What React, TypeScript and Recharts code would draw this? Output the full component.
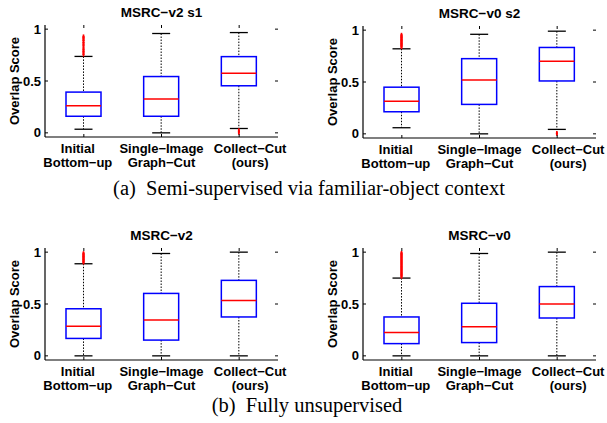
import React from "react";
import { ComposedChart, Bar, XAxis, YAxis } from "recharts";

const CATEGORIES = ["initial", "single", "collect"];
const CATEGORY_LINES = [
  ["Initial", "Bottom−up"],
  ["Single−Image", "Graph−Cut"],
  ["Collect−Cut", "(ours)"],
];
const Y_TICKS = [0, 0.5, 1];
const Y_TICK_LABELS = ["0", "0.5", "1"];
const TITLES = ["MSRC−v2 s1", "MSRC−v0 s2", "MSRC−v2", "MSRC−v0"];
const CAPTIONS = ["(a)  Semi-supervised via familiar-object context", "(b)  Fully unsupervised"];

// [lower whisker, q1, median, q3, upper whisker] per category
const V2_S1_STATS = [
  [0.035, 0.16, 0.262, 0.393, 0.737],
  [0.0, 0.16, 0.326, 0.543, 0.958],
  [0.042, 0.454, 0.575, 0.735, 0.967],
];
const V0_S2_STATS = [
  [0.059, 0.213, 0.314, 0.45, 0.82],
  [0.0, 0.284, 0.52, 0.725, 0.96],
  [0.043, 0.51, 0.7, 0.833, 0.99],
];
const V2_STATS = [
  [0.0, 0.168, 0.286, 0.454, 0.888],
  [0.0, 0.152, 0.345, 0.602, 0.987],
  [0.0, 0.375, 0.533, 0.728, 1.0],
];
const V0_STATS = [
  [0.0, 0.118, 0.224, 0.375, 0.75],
  [0.0, 0.128, 0.28, 0.507, 0.987],
  [0.0, 0.365, 0.5, 0.668, 1.0],
];

// outliers per category
const V2_S1_OUT = [
  [0.755, 0.77, 0.787, 0.8, 0.818, 0.84, 0.856, 0.872, 0.89, 0.905, 0.918, 0.93],
  [],
  [0.0, 0.014, 0.026],
];
const V0_S2_OUT = [
  [0.836, 0.846, 0.857, 0.866, 0.874, 0.885, 0.896, 0.904, 0.913, 0.926, 0.934, 0.945, 0.955],
  [],
  [0.0, 0.008],
];
const V2_OUT = [
  [0.9, 0.91, 0.921, 0.93, 0.942, 0.951, 0.96, 0.972, 0.981, 0.99],
  [],
  [],
];
const V0_OUT = [
  [0.762, 0.773, 0.784, 0.795, 0.806, 0.818, 0.829, 0.84, 0.851, 0.862, 0.874, 0.885, 0.896, 0.907, 0.918, 0.93, 0.941, 0.952, 0.963, 0.974, 0.985, 0.993],
  [],
  [],
];

const W = 310;
const H = 180;
const PLOT_L = 45;
const PLOT_T = 25;
const PLOT_W = 233;
const PLOT_H = 112;
const LABEL_SHIFT = [-6, 0, 11];
const FONT = "'Liberation Sans', Arial, Helvetica, sans-serif";
const SERIF = "'Liberation Serif', 'Times New Roman', serif";

function buildRows(stats: number[][], outliers: number[][]) {
  return CATEGORIES.map((cat, i) => ({
    cat,
    lo: stats[i][0],
    q1: stats[i][1],
    med: stats[i][2],
    q3: stats[i][3],
    hi: stats[i][4],
    out: outliers[i],
  }));
}

// whiskers, box, median and outliers, placed from the bar's own lo..hi pixel span
function BoxShape(props: any) {
  const { x, y, width, height, payload } = props;
  if (!payload) return null;
  const top = Math.min(y, y + height);
  const bot = Math.max(y, y + height);
  const { lo, q1, med, q3, hi, out } = payload;
  const py = (v: number) => bot - ((v - lo) / (hi - lo)) * (bot - top);
  const cx = x + width / 2;
  const cap = 9;
  return (
    <g>
      <line x1={cx} x2={cx} y1={py(hi)} y2={py(q3)} stroke="#000" strokeWidth={1} strokeDasharray="1.5 1.5" />
      <line x1={cx} x2={cx} y1={py(q1)} y2={py(lo)} stroke="#000" strokeWidth={1} strokeDasharray="1.5 1.5" />
      <line x1={cx - cap} x2={cx + cap} y1={py(hi)} y2={py(hi)} stroke="#000" strokeWidth={1.3} />
      <line x1={cx - cap} x2={cx + cap} y1={py(lo)} y2={py(lo)} stroke="#000" strokeWidth={1.3} />
      <rect x={x} y={py(q3)} width={width} height={py(q1) - py(q3)} fill="none" stroke="#0000ff" strokeWidth={1.5} />
      <line x1={x} x2={x + width} y1={py(med)} y2={py(med)} stroke="#ff0000" strokeWidth={1.5} />
      {out.map((v: number, k: number) => (
        <g key={k}>
          <line x1={cx} x2={cx} y1={py(v) - 2} y2={py(v) + 2} stroke="#ff0000" strokeWidth={1.6} />
          <line x1={cx - 1} x2={cx + 1} y1={py(v)} y2={py(v)} stroke="#ff0000" strokeWidth={1} />
        </g>
      ))}
    </g>
  );
}

function CatTick(props: any) {
  const { x, y, index } = props;
  const lines = CATEGORY_LINES[index] || [];
  const lx = x + LABEL_SHIFT[index];
  return (
    <g>
      <line x1={x} x2={x} y1={y} y2={y - 3} stroke="#000" />
      <line x1={x} x2={x} y1={y - PLOT_H} y2={y - PLOT_H + 3} stroke="#000" />
      <text x={lx} y={y + 16} textAnchor="middle" fontFamily={FONT} fontWeight="bold" fontSize={13} fill="#000">
        {lines[0]}
      </text>
      <text x={lx} y={y + 29.5} textAnchor="middle" fontFamily={FONT} fontWeight="bold" fontSize={13} fill="#000">
        {lines[1]}
      </text>
    </g>
  );
}

function ValTick(props: any) {
  const { x, y, index } = props;
  return (
    <g>
      <line x1={x} x2={x + 3} y1={y} y2={y} stroke="#000" />
      <line x1={x + PLOT_W - 3} x2={x + PLOT_W} y1={y} y2={y} stroke="#000" />
      <text x={x - 4} y={y + 4.5} textAnchor="end" fontFamily={FONT} fontWeight="bold" fontSize={13} fill="#000">
        {Y_TICK_LABELS[index]}
      </text>
    </g>
  );
}

function Panel({ left, top, title, stats, outliers }: any) {
  const data = buildRows(stats, outliers);
  return (
    <div style={{ position: "absolute", left, top, width: W, height: H }}>
      <ComposedChart
        width={W}
        height={H}
        data={data}
        margin={{ top: PLOT_T, right: W - PLOT_L - PLOT_W, bottom: H - PLOT_T - PLOT_H - 40, left: 14 }}
      >
        <XAxis
          dataKey="cat"
          type="category"
          interval={0}
          height={40}
          tickSize={0}
          tickMargin={0}
          tickLine={false}
          tick={<CatTick />}
          stroke="#000"
          strokeWidth={1.2}
        />
        <XAxis xAxisId="top" dataKey="cat" orientation="top" height={0} tick={false} tickLine={false} stroke="#000" strokeWidth={1.2} />
        <YAxis
          type="number"
          domain={[-0.04, 1.04]}
          ticks={Y_TICKS}
          width={31}
          tickSize={0}
          tickMargin={0}
          tickLine={false}
          tick={<ValTick />}
          stroke="#000"
          strokeWidth={1.2}
        />
        <YAxis
          yAxisId="r"
          orientation="right"
          type="number"
          domain={[-0.04, 1.04]}
          width={0}
          tick={false}
          tickLine={false}
          stroke="#000"
          strokeWidth={1.2}
        />
        <Bar dataKey={(d: any) => [d.lo, d.hi]} barSize={35} shape={<BoxShape />} isAnimationActive={false} />
      </ComposedChart>
      <svg width={W} height={H} style={{ position: "absolute", left: 0, top: 0, pointerEvents: "none" }}>
        <text x={PLOT_L + PLOT_W / 2} y={17} textAnchor="middle" fontFamily={FONT} fontWeight="bold" fontSize={13.5} fill="#000">
          {title}
        </text>
        <text
          transform={`translate(19, ${PLOT_T + PLOT_H / 2}) rotate(-90)`}
          textAnchor="middle"
          fontFamily={FONT}
          fontWeight="bold"
          fontSize={13}
          fill="#000"
        >
          Overlap Score
        </text>
      </svg>
    </div>
  );
}

export default function App() {
  return (
    <div style={{ position: "absolute", left: 0, top: 0, width: 607, height: 423, overflow: "hidden", background: "#fff" }}>
      <Panel left={0} top={0} title={TITLES[0]} stats={V2_S1_STATS} outliers={V2_S1_OUT} />
      <Panel left={318} top={1} title={TITLES[1]} stats={V0_S2_STATS} outliers={V0_S2_OUT} />
      <Panel left={0} top={223} title={TITLES[2]} stats={V2_STATS} outliers={V2_OUT} />
      <Panel left={318} top={223} title={TITLES[3]} stats={V0_STATS} outliers={V0_OUT} />
      <svg width={607} height={423} style={{ position: "absolute", left: 0, top: 0, pointerEvents: "none" }}>
        <text x={309} y={195} textAnchor="middle" fontFamily={SERIF} fontSize={20.5} fill="#000" xmlSpace="preserve">
          {CAPTIONS[0]}
        </text>
        <text x={307} y={412} textAnchor="middle" fontFamily={SERIF} fontSize={20.5} fill="#000" xmlSpace="preserve">
          {CAPTIONS[1]}
        </text>
      </svg>
    </div>
  );
}
